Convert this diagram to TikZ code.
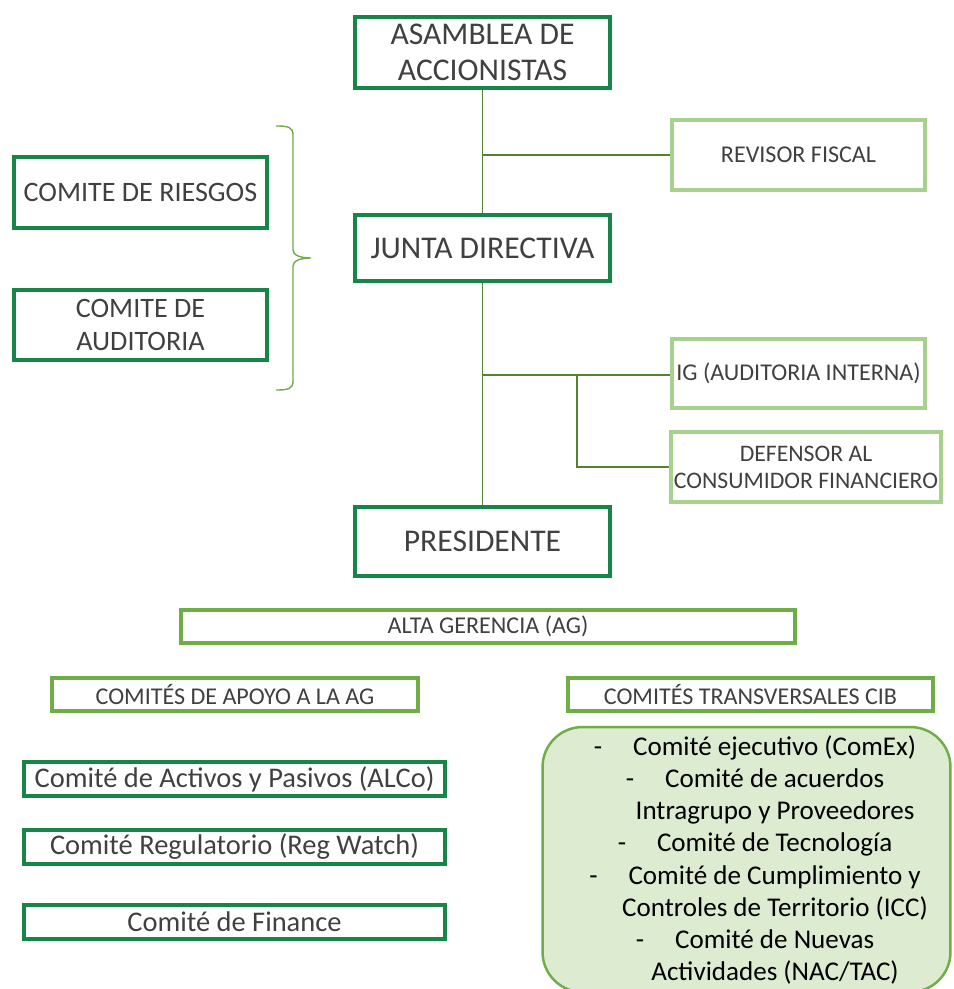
\documentclass[tikz,border=0pt]{standalone}
\usepackage{fontspec}
\setmainfont{Carlito}

\definecolor{darkgreen}{RGB}{24,133,72}
\definecolor{lightgreen}{RGB}{169,209,142}
\definecolor{midgreen}{RGB}{112,173,71}
\definecolor{linegreen}{RGB}{84,130,53}
\definecolor{palegreen}{RGB}{221,235,209}
\definecolor{textgray}{RGB}{64,64,64}

\tikzset{
  darkbox/.style={draw=darkgreen, line width=2.3pt, align=center, text=textgray, inner sep=0pt},
  lightbox/.style={draw=lightgreen, line width=2.3pt, align=center, text=textgray, inner sep=0pt,
    font=\fontsize{13.7}{15.3}\selectfont},
  midbox/.style={draw=midgreen, line width=2pt, align=center, text=textgray, inner sep=0pt,
    minimum height=0.66cm, font=\fontsize{13.7}{15.3}\selectfont},
  conn/.style={draw=linegreen, line width=0.75pt},
  curly/.style={draw=midgreen, line width=0.8pt},
}

\begin{document}
\begin{tikzpicture}[x=0.02cm, y=-0.02cm]
  \useasboundingbox (0,0) rectangle (953,989);

  % main line
  \node[darkbox, minimum width=5.1cm, minimum height=1.42cm, font=\fontsize{18}{20.4}\selectfont]
    (asamblea) at (482.5,52.5) {ASAMBLEA DE\\ACCIONISTAS};
  \node[darkbox, minimum width=5.1cm, minimum height=1.32cm, font=\fontsize{18}{20.4}\selectfont]
    (junta) at (482.5,248) {JUNTA DIRECTIVA};
  \node[darkbox, minimum width=5.1cm, minimum height=1.38cm, font=\fontsize{18}{20.4}\selectfont]
    (presidente) at (482.5,541.5) {PRESIDENTE};

  % right side
  \node[lightbox, minimum width=5.06cm, minimum height=1.4cm] (revisor) at (798.5,155) {REVISOR FISCAL};
  \node[lightbox, minimum width=5.06cm, minimum height=1.38cm] (ig) at (798.5,373.5) {IG (AUDITORIA INTERNA)};
  \node[lightbox, minimum width=5.4cm, minimum height=1.4cm, font=\fontsize{13.5}{15.3}\selectfont]
    (defensor) at (806,467) {DEFENSOR AL\\CONSUMIDOR FINANCIERO};

  % left committees
  \node[darkbox, minimum width=5.06cm, minimum height=1.42cm, font=\fontsize{16}{18.7}\selectfont]
    (riesgos) at (140.5,192.5) {COMITE DE RIESGOS};
  \node[darkbox, minimum width=5.06cm, minimum height=1.4cm, font=\fontsize{16}{18.7}\selectfont]
    (auditoria) at (140.5,325) {COMITE DE\\AUDITORIA};
  \draw[curly] (276,126) .. controls (288,126) and (293,127) .. (293,135) -- (293,250)
    .. controls (293,255) and (300,258) .. (311,258)
    .. controls (300,258) and (293,261) .. (293,266) -- (293,381)
    .. controls (293,389) and (288,390) .. (276,390);

  % connectors
  \coordinate (rf) at (asamblea.south |- revisor.west);
  \coordinate (igj) at (482.5,375);
  \coordinate (db) at (577,375);
  \draw[conn] (asamblea.south) -- (junta.north);
  \draw[conn] (rf) -- (revisor.west);
  \draw[conn] (junta.south) -- (presidente.north);
  \draw[conn] (igj) -- (ig.west |- igj);
  \draw[conn] (db) |- (defensor.west);

  % alta gerencia
  \node[midbox, minimum width=12.28cm] (alta) at (488,626.5) {ALTA GERENCIA (AG)};
  \node[midbox, minimum width=7.32cm] (apoyo) at (235,694.5) {COMITÉS DE APOYO A LA AG};
  \node[midbox, minimum width=7.3cm] (transv) at (750.5,694.5) {COMITÉS TRANSVERSALES CIB};

  % support committees
  \node[darkbox, minimum width=8.42cm, minimum height=0.68cm, font=\fontsize{16.2}{19}\selectfont]
    (alco) at (234.5,779) {Comité de Activos y Pasivos (ALCo)};
  \node[darkbox, minimum width=8.42cm, minimum height=0.68cm, font=\fontsize{16.2}{19}\selectfont]
    (reg) at (234.5,847) {Comité Regulatorio (Reg Watch)};
  \node[darkbox, minimum width=8.42cm, minimum height=0.68cm, font=\fontsize{16.2}{19}\selectfont]
    (finance) at (234.5,922) {Comité de Finance};

  % transversal committees
  \node[draw=midgreen, fill=palegreen, line width=1.4pt, rounded corners=0.8cm, inner sep=0pt,
    minimum width=8.16cm, minimum height=5.3cm] (cibbox) at (746.5,859.5) {};
  \node[align=center, inner sep=0pt, font=\fontsize{15.4}{18.3}\selectfont]
    (cibtext) at (755,860) {%
    -\hspace{0.62cm}Comité ejecutivo (ComEx)\\
    -\hspace{0.62cm}Comité de acuerdos\\
    \hspace*{0.8cm}Intragrupo y Proveedores\\
    -\hspace{0.62cm}Comité de Tecnología\\
    -\hspace{0.62cm}Comité de Cumplimiento y\\
    \hspace*{0.8cm}Controles de Territorio (ICC)\\
    -\hspace{0.62cm}Comité de Nuevas\\
    \hspace*{0.8cm}Actividades (NAC/TAC)};
\end{tikzpicture}
\end{document}
